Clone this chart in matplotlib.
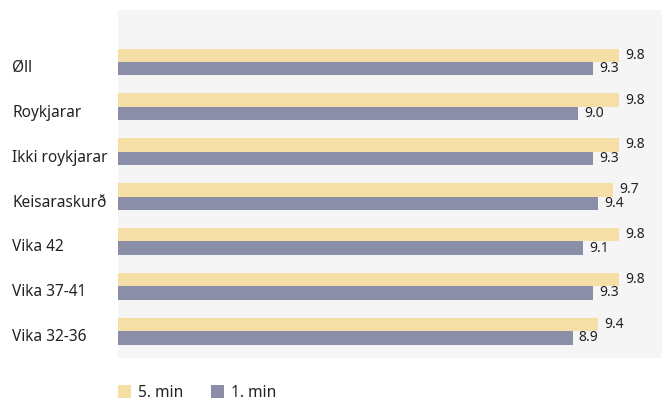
import matplotlib.pyplot as plt
import matplotlib.transforms as mtransforms
import numpy as np

# data
categories = ['Øll', 'Roykjarar', 'Ikki roykjarar', 'Keisaraskurð',
              'Vika 42', 'Vika 37-41', 'Vika 32-36']
min5 = [9.8, 9.8, 9.8, 9.7, 9.8, 9.8, 9.4]
min1 = [9.3, 9.0, 9.3, 9.4, 9.1, 9.3, 8.9]
series_names = ['5. min', '1. min']

col5 = '#f5dfa6'
col1 = '#8a8ea6'

plt.rcParams['font.family'] = ['Noto Sans', 'DejaVu Sans']

fig = plt.figure(figsize=(6.68, 4.0), dpi=100)
ax = fig.add_axes([118 / 668, 42 / 400, 544 / 668, 348 / 400])
ax.set_facecolor('#f5f5f5')

y = np.arange(len(categories))
h = 0.3
b5 = ax.barh(y - h / 2, min5, height=h, color=col5, label=series_names[0])
b1 = ax.barh(y + h / 2, min1, height=h, color=col1, label=series_names[1])

for bars, vals in [(b5, min5), (b1, min1)]:
    for bar, v in zip(bars, vals):
        ax.annotate(f'{v:.1f}', (v, bar.get_y() + bar.get_height() / 2),
                    xytext=(4.5, 0), textcoords='offset points',
                    va='center', ha='left', fontsize=10, color='#222222')

ax.set_xlim(0, 10.65)
ax.set_ylim(6.6, -1.16)
ax.set_yticks(y)
ax.set_yticklabels(categories, fontsize=11.1, color='#222222', ha='left')
ax.set_xticks([])
# left edge of labels at x=12px
ax.tick_params(axis='y', length=0, pad=106 * 72 / 100)
# category labels sit a little below the middle of each pair
shift = mtransforms.ScaledTranslation(0, -4 / 100, fig.dpi_scale_trans)
for lbl in ax.get_yticklabels():
    lbl.set_transform(lbl.get_transform() + shift)
for s in ax.spines.values():
    s.set_visible(False)

leg = fig.legend(handles=[b5, b1], loc='upper left', ncol=2, frameon=False,
                 bbox_to_anchor=(118 / 668, 1 - 385 / 400), fontsize=11.2,
                 borderpad=0, borderaxespad=0,
                 handlelength=0.84, handleheight=0.84, handletextpad=0.45,
                 columnspacing=1.8, labelcolor='#222222')

fig.savefig('out.png', dpi=100)
